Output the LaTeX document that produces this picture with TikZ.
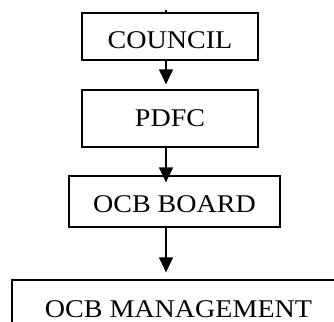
\documentclass[tikz,border=0pt]{standalone}
\usepackage{fontspec}
\setmainfont{Liberation Serif}
\usetikzlibrary{arrows.meta}
\tikzset{
  box/.style={draw, line width=1.3bp, rectangle, inner sep=0pt, align=center,
    font=\fontsize{25.5bp}{30bp}\selectfont},
  arr/.style={line width=1.3bp, -{Triangle[width=14bp,length=15bp]}}
}
\newcommand{\wtxt}[1]{\scalebox{1.1}[1]{#1}}
\begin{document}
\begin{tikzpicture}[x=1bp,y=-1bp]
\useasboundingbox (0,0) rectangle (334,322);
\clip (0,0) rectangle (334,322);
\node[box, minimum width=176bp, text height=35bp, text depth=12bp] (council) at (170,36.5) {\wtxt{COUNCIL}};
\node[box, minimum width=176bp, text height=36bp, text depth=21bp] (pdfc) at (170,118.5) {\wtxt{PDFC}};
\node[box, minimum width=211bp, text height=36bp, text depth=15bp] (board) at (174.5,201.5) {\wtxt{OCB BOARD}};
\node[box, minimum width=333bp, text height=37bp, text depth=23bp] (mgmt) at (178.5,310) {\wtxt{OCB MANAGEMENT}};
\coordinate (ax) at (166,0);
\coordinate (stub) at (166,10);
\draw[line width=1.3bp] (stub) -- (council.north -| ax);
\draw[arr, shorten >=5bp] (council.south -| ax) -- (pdfc.north -| ax);
\draw[arr, shorten >=-7bp] (pdfc.south -| ax) -- (board.north -| ax);
\draw[arr, shorten >=7bp] (board.south -| ax) -- (mgmt.north -| ax);
\end{tikzpicture}
\end{document}
